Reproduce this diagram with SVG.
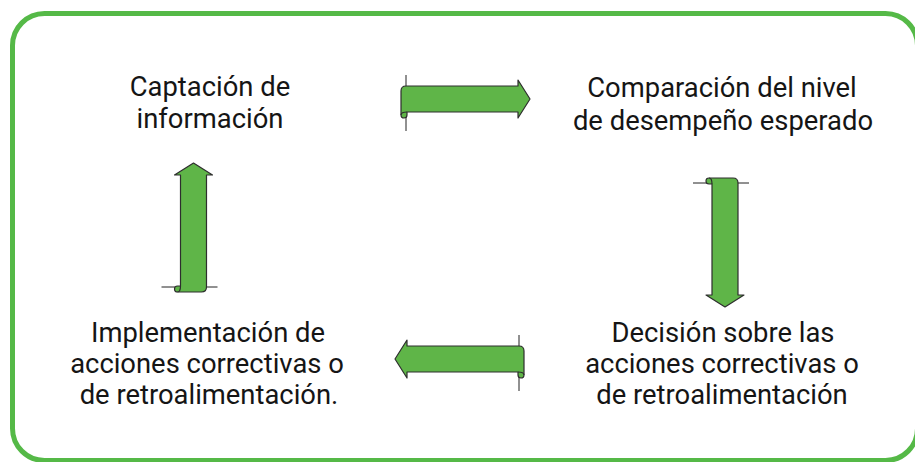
<svg xmlns="http://www.w3.org/2000/svg" width="915" height="462" viewBox="0 0 915 462">
<style>
.lbl{font-family:Roboto,"Liberation Sans",sans-serif;font-size:27.4px;fill:#151515;text-anchor:middle}
.body{fill:#5fb548;stroke:#2e2e2e;stroke-width:1.2;stroke-linejoin:round}
.curl{fill:none;stroke:#2e2e2e;stroke-width:1.2}
.tick{stroke:#222;stroke-width:1}
</style>
<defs>
<g id="scroll">
<line class="tick" x1="5" y1="-24" x2="5" y2="32"/>
<path class="body" d="M0,-8 Q0,-13 5,-13 L117,-13 L117,-19 L129,0 L117,19 L117,13 L6,13 L6,16 Q6,19 3,19 Q0,19 0,16 Z"/>
<path class="curl" d="M6,13 Q0,13 0,16"/>
</g>
</defs>
<rect x="12.5" y="13.5" width="905" height="447" rx="32" fill="none" stroke="#55b947" stroke-width="5"/>
<g id="connectors">
<use href="#scroll" transform="translate(401,99)"/>
<use href="#scroll" transform="matrix(0,1,-1,0,725,178)"/>
<use href="#scroll" transform="matrix(-1,0,0,1,524,359)"/>
<use href="#scroll" transform="matrix(0,-1,-1,0,193.5,292)"/>
</g>
<g id="node-captacion">
<text class="lbl" x="210" y="96">Captación de</text>
<text class="lbl" x="210" y="128">información</text>
</g>
<g id="node-comparacion">
<text class="lbl" x="722" y="97">Comparación del nivel</text>
<text class="lbl" x="723" y="130">de desempeño esperado</text>
</g>
<g id="node-decision">
<text class="lbl" x="723" y="342">Decisión sobre las</text>
<text class="lbl" x="722" y="373">acciones correctivas o</text>
<text class="lbl" x="722" y="404">de retroalimentación</text>
</g>
<g id="node-implementacion">
<text class="lbl" x="208" y="342">Implementación de</text>
<text class="lbl" x="207" y="373">acciones correctivas o</text>
<text class="lbl" x="209" y="404">de retroalimentación.</text>
</g>
</svg>
